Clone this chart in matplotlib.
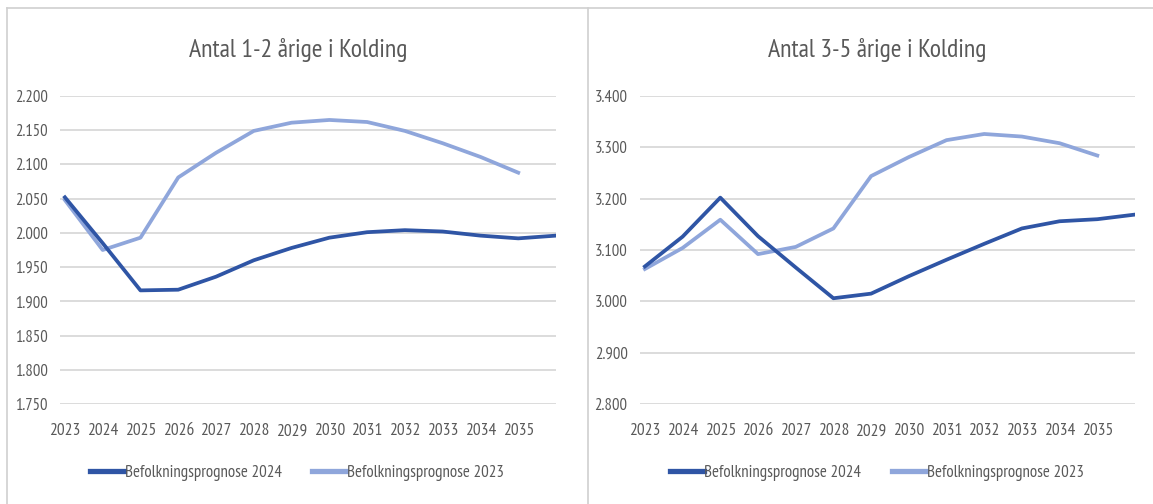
import matplotlib
matplotlib.use("Agg")
import matplotlib.pyplot as plt
from matplotlib import font_manager
from matplotlib.lines import Line2D

# categories (the 2036 point is cut off at the right edge, its label is blank)
years = [2023, 2024, 2025, 2026, 2027, 2028, 2029, 2030, 2031, 2032, 2033, 2034, 2035, 2036]
tick_labels = ["2023", "2024", "2025", "2026", "2027", "2028", "2029",
               "2030", "2031", "2032", "2033", "2034", "2035"]

# Antal 1-2 årige
prog24_1_2 = [2052, 1985, 1916, 1917, 1936, 1960, 1978, 1993, 2001, 2004, 2002, 1996, 1992, 1996]
prog23_1_2 = [2048, 1975, 1993, 2081, 2117, 2149, 2161, 2165, 2162, 2149, 2131, 2111, 2088]

# Antal 3-5 årige
prog24_3_5 = [3068, 3126, 3202, 3127, 3066, 3006, 3015, 3049, 3081, 3112, 3142, 3156, 3160, 3169]
prog23_3_5 = [3063, 3104, 3159, 3092, 3106, 3142, 3244, 3281, 3314, 3326, 3321, 3308, 3284]

dark = "#2F55A5"
light = "#8FA6DB"
grey_text = "#595959"

# narrow font like the squeezed Calibri of the screenshot, else a plain fallback
names = {f.name for f in font_manager.fontManager.ttflist}
if "PT Sans Narrow" in names:
    plt.rcParams['font.family'] = ['PT Sans Narrow', 'DejaVu Sans']
    fs_title, fs_tick, fs_year, fs_leg = 18.5, 12, 12.5, 12.2
else:
    plt.rcParams['font.family'] = ['Liberation Sans', 'DejaVu Sans']
    fs_title, fs_tick, fs_year, fs_leg = 14, 9, 8.5, 9

fig = plt.figure(figsize=(11.53, 5.04), dpi=100)


def fmt(v):
    # Danish thousands separator
    return f"{v:,.0f}".replace(",", ".")


def panel(rect, title, s24, s23, yticks):
    ax = fig.add_axes(rect)
    ax.plot(range(len(s24)), s24, color=dark, lw=2.7, solid_joinstyle='round',
            label="Befolkningsprognose 2024", zorder=3)
    ax.plot(range(len(s23)), s23, color=light, lw=2.7, solid_joinstyle='round',
            label="Befolkningsprognose 2023", zorder=2)
    ax.set_xlim(-0.13, len(years) - 1)
    ax.set_ylim(yticks[0], yticks[-1])
    ax.set_yticks(yticks)
    ax.set_yticklabels([fmt(v) for v in yticks])
    ax.set_xticks(range(len(tick_labels)))
    ax.set_xticklabels(tick_labels)
    ax.grid(axis='y', color="#D9D9D9", lw=1.3)
    ax.set_axisbelow(True)
    for s in ax.spines.values():
        s.set_visible(False)
    ax.tick_params(length=0, colors=grey_text, labelsize=fs_tick)
    ax.tick_params(axis='x', pad=14, labelsize=fs_year)
    ax.tick_params(axis='y', pad=9)
    ax.set_title(title, color=grey_text, fontsize=fs_title, pad=28, x=0.48)
    ax.legend(loc='center', bbox_to_anchor=(0.478, -0.224), ncol=2, frameon=False,
              fontsize=fs_leg, labelcolor=grey_text, handlelength=2.0, handletextpad=0.05,
              columnspacing=1.8)
    for line in ax.get_legend().get_lines():
        line.set_linewidth(3.8)
    return ax


panel([60 / 1153, 1 - 404 / 504, 496 / 1153, 308 / 504], "Antal 1-2 årige i Kolding",
      prog24_1_2, prog23_1_2, list(range(1750, 2201, 50)))
panel([640 / 1153, 1 - 404 / 504, 495 / 1153, 308 / 504], "Antal 3-5 årige i Kolding",
      prog24_3_5, prog23_3_5, list(range(2800, 3401, 100)))

# frame of the screenshot
frame = "#D0D0D0"
fig.add_artist(Line2D([7 / 1153, 1], [1 - 8 / 504, 1 - 8 / 504], color=frame, lw=1.2))
fig.add_artist(Line2D([7 / 1153, 7 / 1153], [0, 1 - 8 / 504], color=frame, lw=1.2))
fig.add_artist(Line2D([588 / 1153, 588 / 1153], [0, 1 - 8 / 504], color=frame, lw=1.2))

fig.savefig("out.png", dpi=100)
